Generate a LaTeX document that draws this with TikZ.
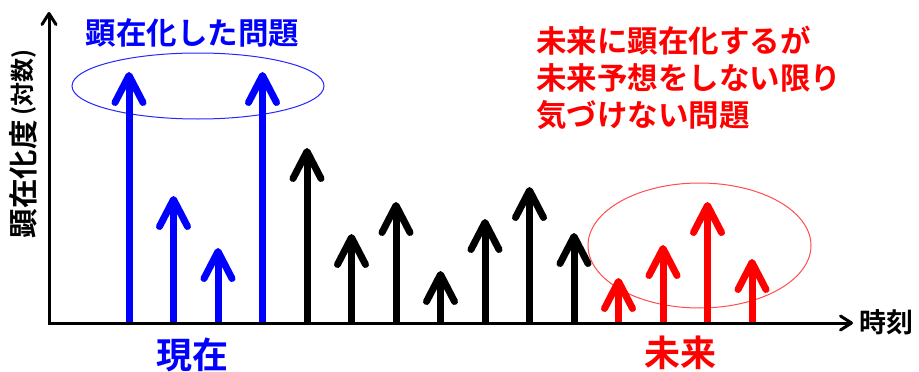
\documentclass[tikz,border=0pt]{standalone}
\usepackage{fontspec}
\newfontfamily\jp{Noto Sans CJK JP}[BoldFont={Noto Sans CJK JP Bold}]
\usetikzlibrary{arrows.meta}
\begin{document}
\begin{tikzpicture}[x=1pt,y=-1pt,
  bar/.style={line width=7pt, -{Straight Barb[length=27pt,width=28pt,line cap=round,line join=round]}},
  axisline/.style={line width=3pt, -{Straight Barb[length=11pt,width=14pt,line cap=round,line join=round]}},
  lbl/.style={inner sep=0pt, font=\jp\bfseries},
]
\useasboundingbox (0,0) rectangle (919,372);
% ellipses
\draw[blue!85!white, line width=1pt] (198,86) ellipse [x radius=126pt, y radius=33pt];
\draw[red!70!white, line width=1pt] (699.5,245.5) ellipse [x radius=111.5pt, y radius=62.5pt];
% arrows
\foreach \i/\h/\c in {0/72/blue,1/196/blue,2/248/blue,3/72/blue,
  4/148/black,5/234/black,6/202/black,7/271/black,8/219/black,9/187/black,10/233/black,
  11/278/red,12/245/red,13/202/red,14/259/red}{
  \coordinate (b\i) at ({129+44.5*\i},323);
  \coordinate (t\i) at ({129+44.5*\i},\h);
  \draw[bar,\c] (b\i) -- (t\i);
}
% axes
\coordinate (o) at (49,323);
\coordinate (ytop) at (49,12);
\coordinate (xend) at (853,323);
\draw[axisline, line cap=rect] (o) -- (ytop);
\draw[axisline, line cap=rect] (o) -- (xend);
% labels
\node[lbl, text=blue, font=\jp\bfseries\fontsize{30.5}{36}\selectfont] (h1) at (192.5,33) {顕在化した問題};
\node[lbl, text=red, anchor=west, align=left, font=\jp\bfseries\fontsize{30.5}{37}\selectfont] (h2) at (536,78)
  {未来に顕在化するが\\未来予想をしない限り\\気づけない問題};
\node[lbl, rotate=90, font=\jp\bfseries\fontsize{29.5}{29.5}\selectfont] (ylab) at (23.5,179) {顕在化度};
\node[lbl, rotate=90, font=\jp\bfseries\fontsize{24}{24}\selectfont] (ylab2) at (24,82.5) {(対数)};
\node[lbl, anchor=west, font=\jp\bfseries\fontsize{27}{27}\selectfont] (xlab) at (859,322) {時刻};
\node[lbl, text=blue, font=\jp\bfseries\fontsize{36}{36}\selectfont] (now) at (192,355) {現在};
\node[lbl, text=red, font=\jp\bfseries\fontsize{36}{36}\selectfont] (fut) at (680,353) {未来};
\end{tikzpicture}
\end{document}
